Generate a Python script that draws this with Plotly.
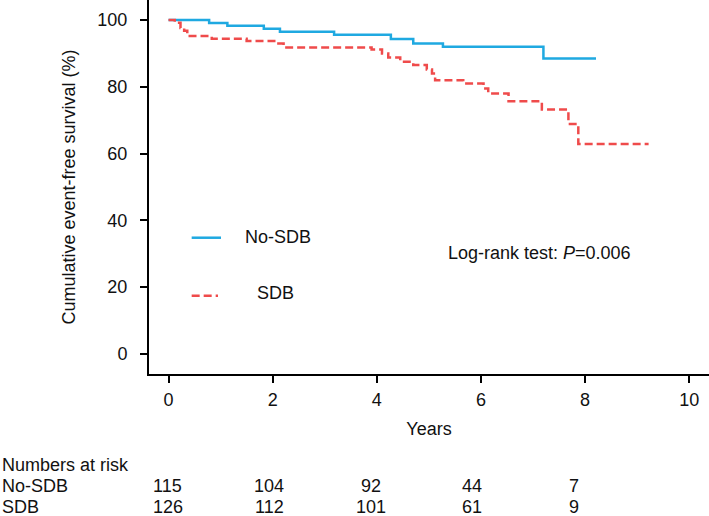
import plotly.graph_objects as go

# Kaplan-Meier step data (years, % event-free)
nosdb_t = [0, 0.78, 1.13, 1.83, 2.14, 3.18, 4.27, 4.70, 5.27, 7.20, 8.21]
nosdb_s = [100, 99.1, 98.3, 97.4, 96.5, 95.6, 94.3, 93.0, 92.0, 88.5, 88.5]

sdb_t = [0, 0.12, 0.23, 0.30, 0.36, 0.83, 1.50, 2.08, 2.21, 3.90, 4.10, 4.22, 4.45,
         4.70, 4.96, 5.06, 5.12, 5.66, 6.05, 6.14, 6.53, 7.17, 7.68, 7.87, 9.22]
sdb_s = [100, 99.2, 97.6, 96.8, 95.2, 94.4, 93.7, 93.0, 91.8, 91.2, 90.0, 88.8, 87.5,
         86.5, 85.2, 84.0, 82.0, 81.0, 79.5, 78.0, 75.7, 73.2, 68.9, 62.9, 62.9]

risk_times = [0, 2, 4, 6, 8]
risk_nosdb = [115, 104, 92, 44, 7]
risk_sdb = [126, 112, 101, 61, 9]

x_ticks = [0, 2, 4, 6, 8, 10]
y_ticks = [0, 20, 40, 60, 80, 100]

BLUE = "#1FA9E1"
RED = "#EF4B4B"
FONT = "Liberation Sans, Arial, sans-serif"
TXT = "#111111"
FS = 18

fig = go.Figure()
fig.add_trace(go.Scatter(x=nosdb_t, y=nosdb_s, mode="lines", line=dict(color=BLUE, width=2.5, shape="hv"),
                         name="No-SDB", showlegend=False))
fig.add_trace(go.Scatter(x=sdb_t, y=sdb_s, mode="lines",
                         line=dict(color=RED, width=2.5, shape="hv", dash="8px,4px"),
                         name="SDB", showlegend=False))

# manual legend
fig.add_shape(type="line", xref="paper", yref="paper", x0=0.0762, x1=0.1286, y0=0.3644, y1=0.3644,
              line=dict(color=BLUE, width=2.5))
fig.add_shape(type="line", xref="paper", yref="paper", x0=0.0762, x1=0.1232, y0=0.2094, y1=0.2094,
              line=dict(color=RED, width=2.5, dash="8px,4px"))
fig.add_annotation(text="No-SDB", xref="paper", yref="paper", x=0.1673, y=0.3655, xanchor="left",
                   yanchor="middle", showarrow=False, font=dict(size=FS, color=TXT, family=FONT))
fig.add_annotation(text="SDB", xref="paper", yref="paper", x=0.1888, y=0.2158, xanchor="left",
                   yanchor="middle", showarrow=False, font=dict(size=FS, color=TXT, family=FONT))
fig.add_annotation(text="Log-rank test: <i>P</i>=0.006", xref="paper", yref="paper", x=0.5304, y=0.3235,
                   xanchor="left", yanchor="middle", showarrow=False, font=dict(size=FS, color=TXT, family=FONT))

# numbers at risk table
rows_y = [-0.2433, -0.2995, -0.3555]
fig.add_annotation(text="Numbers at risk", xref="paper", yref="paper", x=-0.266, y=rows_y[0],
                   xanchor="left", yanchor="middle", showarrow=False, font=dict(size=FS, color=TXT, family=FONT))
for label, vals, yy in [("No-SDB", risk_nosdb, rows_y[1]), ("SDB", risk_sdb, rows_y[2])]:
    fig.add_annotation(text=label, xref="paper", yref="paper", x=-0.266, y=yy,
                       xanchor="left", yanchor="middle", showarrow=False,
                       font=dict(size=FS, color=TXT, family=FONT))
    for t, v in zip(risk_times, vals):
        fig.add_annotation(text=str(v), xref="x", yref="paper", x=t, y=yy, xshift=-1 - 1.3 * t,
                           xanchor="center", yanchor="middle", showarrow=False,
                           font=dict(size=FS, color=TXT, family=FONT))

fig.update_layout(
    width=709, height=516,
    margin=dict(l=149, r=0, t=0, b=142),
    paper_bgcolor="white", plot_bgcolor="white",
    font=dict(family=FONT, size=FS, color=TXT),
)
fig.update_xaxes(range=[-0.375, 10.38], tickvals=x_ticks, showgrid=False, zeroline=False,
                 showline=True, linecolor="black", linewidth=2, ticks="outside", ticklen=7, tickwidth=2,
                 tickcolor="black", ticklabelstandoff=1,
                 title=dict(text="Years", font=dict(size=FS, family=FONT, color=TXT), standoff=14))
fig.update_yaxes(range=[-6, 106], tickvals=y_ticks, showgrid=False, zeroline=False,
                 showline=True, linecolor="black", linewidth=2, ticks="outside", ticklen=7, tickwidth=2,
                 tickcolor="black", ticklabelstandoff=9,
                 title=dict(text="Cumulative event-free survival (%)", font=dict(size=FS, family=FONT, color=TXT),
                            standoff=17))

fig.write_html("out.html", config={"displayModeBar": False},
               post_script="document.body.style.margin='0';document.body.style.overflow='hidden';")
